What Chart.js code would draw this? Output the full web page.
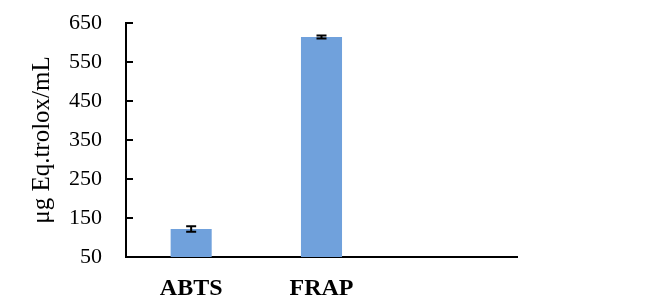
<!DOCTYPE html>
<html>
<head>
<meta charset="utf-8">
<script src="https://cdn.jsdelivr.net/npm/chart.js@4"></script>
<style>
  html, body { margin: 0; padding: 0; background: #fff; }
  #wrap { width: 651px; height: 302px; }
</style>
</head>
<body>
<div id="wrap"><canvas id="chart" width="651" height="302"></canvas></div>
<script>
// data
const categories = ['ABTS', 'FRAP', ''];
const values = [122, 614, null];
const errors = [7, 4, null];
const yTicks = [50, 150, 250, 350, 450, 550, 650];

const serif = "'Liberation Serif', 'Times New Roman', serif";

// error bars + inward tick marks on the y axis
const extrasPlugin = {
    id: 'extras',
    afterDatasetsDraw(chart) {
        const ctx = chart.ctx;
        const x = chart.scales.x;
        const y = chart.scales.y;
        ctx.save();
        ctx.strokeStyle = '#000';
        ctx.lineWidth = 2;
        values.forEach((v, i) => {
            if (v == null || errors[i] == null) return;
            const cx = x.getPixelForValue(i);
            const top = y.getPixelForValue(v + errors[i]);
            const bot = y.getPixelForValue(v - errors[i]);
            ctx.beginPath();
            ctx.moveTo(cx, top); ctx.lineTo(cx, bot);
            ctx.moveTo(cx - 5, top); ctx.lineTo(cx + 5, top);
            ctx.moveTo(cx - 5, bot); ctx.lineTo(cx + 5, bot);
            ctx.stroke();
        });
        // tick marks pointing into the plot
        const left = chart.chartArea.left;
        yTicks.forEach(t => {
            const py = y.getPixelForValue(t);
            ctx.beginPath();
            ctx.moveTo(left, py); ctx.lineTo(left + 7, py);
            ctx.stroke();
        });
        ctx.restore();
    }
};

new Chart(document.getElementById('chart').getContext('2d'), {
    type: 'bar',
    data: {
        labels: categories,
        datasets: [{
            data: values,
            backgroundColor: '#70A1DC',
            borderWidth: 0,
            categoryPercentage: 1,
            barPercentage: 0.315
        }]
    },
    options: {
        responsive: false,
        animation: false,
        layout: { padding: { left: 0, right: 134, top: 23, bottom: 0 } },
        plugins: { legend: { display: false }, tooltip: { enabled: false } },
        scales: {
            x: {
                grid: { display: false, drawTicks: false },
                border: { color: '#000', width: 2 },
                ticks: {
                    color: '#000',
                    padding: 17,
                    font: { family: serif, size: 24, weight: 'bold' }
                },
                afterFit: axis => {
                    axis.height = 45;
                    axis.paddingLeft = 0;
                    axis.paddingRight = 0;
                }
            },
            y: {
                min: 50,
                max: 650,
                afterBuildTicks: axis => { axis.ticks = yTicks.map(v => ({ value: v })); },
                grid: { display: false, drawTicks: false },
                border: { color: '#000', width: 2 },
                ticks: {
                    color: '#000',
                    padding: 24,
                    font: { family: serif, size: 22 }
                },
                title: {
                    display: true,
                    text: 'μg Eq.trolox/mL',
                    color: '#000',
                    padding: { top: 27, bottom: 0 },
                    font: { family: serif, size: 25 }
                },
                afterFit: axis => {
                    axis.width = 126;
                    axis.paddingTop = 0;
                    axis.paddingBottom = 0;
                }
            }
        }
    },
    plugins: [extrasPlugin]
});
</script>
</body>
</html>
